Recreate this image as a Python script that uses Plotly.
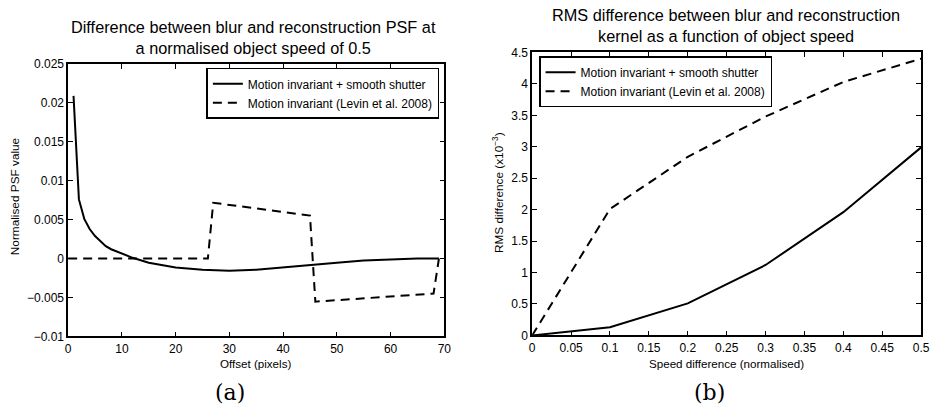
import plotly.graph_objects as go

# ---------------- data ----------------
# (a) PSF difference vs offset
offset_smooth = [1, 2, 3, 4, 5, 6, 7, 8, 10, 12, 15, 20, 25, 30, 35, 40, 45, 50, 55, 60, 65, 69]
psf_smooth = [0.0209, 0.0076, 0.0051, 0.0038, 0.0029, 0.0022, 0.0016, 0.0012, 0.0006, 0.0001,
              -0.00053, -0.00115, -0.00143, -0.00156, -0.00143, -0.0011, -0.00082, -0.00053,
              -0.00025, -0.00008, 0.0, 0.0]
offset_levin = [0, 26, 27, 45, 46, 68, 69]
psf_levin = [0.0, 0.0, 0.00717, 0.00553, -0.00553, -0.0045, 0.0]

# (b) RMS difference vs speed difference
speed = [0, 0.1, 0.2, 0.3, 0.4, 0.5]
rms_smooth = [0, 0.13, 0.51, 1.12, 1.96, 2.99]
rms_levin = [0, 2.01, 2.84, 3.48, 4.03, 4.40]

name_smooth = "Motion invariant + smooth shutter"
name_levin = "Motion invariant (Levin et al. 2008)"

W, H = 941, 412
FONT = "Liberation Sans, Arial, sans-serif"
DASH = "9px,6px"

fig = go.Figure()
fig.add_trace(go.Scatter(x=offset_smooth, y=psf_smooth, mode="lines", name=name_smooth,
                         line=dict(color="black", width=2), xaxis="x", yaxis="y",
                         legend="legend", legendgroup="a"))
fig.add_trace(go.Scatter(x=offset_levin, y=psf_levin, mode="lines", name=name_levin,
                         line=dict(color="black", width=2, dash=DASH), xaxis="x", yaxis="y",
                         legend="legend", legendgroup="a"))
fig.add_trace(go.Scatter(x=speed, y=rms_smooth, mode="lines", name=name_smooth,
                         line=dict(color="black", width=2), xaxis="x2", yaxis="y2",
                         legend="legend2", legendgroup="b"))
fig.add_trace(go.Scatter(x=speed, y=rms_levin, mode="lines", name=name_levin,
                         line=dict(color="black", width=2, dash=DASH), xaxis="x2", yaxis="y2",
                         legend="legend2", legendgroup="b"))

def px(v):
    return v / W

def py(v):
    return 1 - v / H

axis_common = dict(showgrid=False, zeroline=False, showline=True, linecolor="black", linewidth=1.5,
                   mirror="ticks", ticks="inside", ticklen=5, tickwidth=1, tickcolor="black",
                   tickfont=dict(family=FONT, size=12, color="black"))

legend_common = dict(bgcolor="white", bordercolor="black", borderwidth=1.5,
                     font=dict(family=FONT, size=12), tracegroupgap=0, traceorder="normal",
                     itemwidth=30)

fig.update_layout(
    width=W, height=H, margin=dict(l=0, r=0, t=0, b=0),
    paper_bgcolor="white", plot_bgcolor="white",
    font=dict(family=FONT, color="black"),
    xaxis=dict(domain=[px(66), px(447)], range=[0, 70], dtick=10, anchor="y", **axis_common),
    yaxis=dict(domain=[py(341), py(59)], range=[-0.01, 0.025], dtick=0.005, anchor="x", **axis_common),
    xaxis2=dict(domain=[px(536), px(930)], range=[0, 0.5], dtick=0.05, anchor="y2", **axis_common),
    yaxis2=dict(domain=[py(340), py(47)], range=[0, 4.5], dtick=0.5, anchor="x2", **axis_common),
    legend=dict(x=px(442), y=py(63), xanchor="right", yanchor="top", **legend_common),
    legend2=dict(x=px(543), y=py(51), xanchor="left", yanchor="top", **legend_common),
    showlegend=True,
)

def ann(text, x, y, size, family=FONT, angle=0):
    fig.add_annotation(text=text, x=px(x), y=py(y), xref="paper", yref="paper",
                       xanchor="center", yanchor="middle", showarrow=False, textangle=angle,
                       font=dict(family=family, size=size, color="black"))

ann("Difference between blur and reconstruction PSF at<br>a normalised object speed of 0.5", 254, 32, 16.3)
ann("RMS difference between blur and reconstruction<br>kernel as a function of object speed", 732, 19, 16.3)
ann("Offset (pixels)", 256, 369, 11.6)
ann("Speed difference (normalised)", 733, 369, 11.6)
ann("Normalised PSF value", 13, 196, 11.8, angle=-90)
ann("RMS difference (x10<sup>−3</sup>)", 502, 192, 11.8, angle=-90)
ann("(a)", 230, 399, 22, family="DejaVu Serif, Liberation Serif, serif")
ann("(b)", 716, 399, 22, family="DejaVu Serif, Liberation Serif, serif")

fig.write_html("out.html")
